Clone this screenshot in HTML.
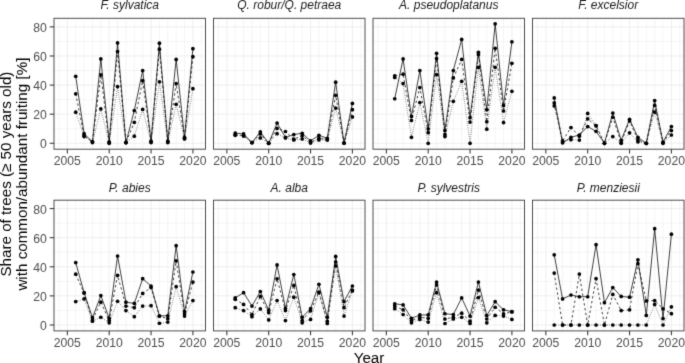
<!DOCTYPE html>
<html><head><meta charset="utf-8"><style>
html,body{margin:0;padding:0;background:#fff;}
svg{display:block;}
text{font-family:"Liberation Sans",sans-serif;}
.st{font-size:12.0px;font-style:italic;fill:#1a1a1a;text-anchor:middle;}
.tx{font-size:12.2px;fill:#4d4d4d;text-anchor:middle;}
.ty{font-size:12.2px;fill:#4d4d4d;text-anchor:end;}
.ti{font-size:15.2px;fill:#000;text-anchor:middle;}
</style></head><body>
<svg width="685" height="363" viewBox="0 0 685 363">
<defs><filter id="bl" x="0" y="0" width="685" height="363" filterUnits="userSpaceOnUse" color-interpolation-filters="sRGB"><feConvolveMatrix order="3" kernelMatrix="0.0144 0.0912 0.0144 0.0912 0.5776 0.0912 0.0144 0.0912 0.0144" edgeMode="duplicate" preserveAlpha="true"/></filter></defs>
<g filter="url(#bl)">
<rect width="685" height="363" fill="#fff"/>
<line x1="58.98" y1="18.3" x2="58.98" y2="149.2" stroke="#ededed" stroke-width="0.55"/>
<line x1="67.35" y1="18.3" x2="67.35" y2="149.2" stroke="#ededed" stroke-width="0.95"/>
<line x1="75.72" y1="18.3" x2="75.72" y2="149.2" stroke="#ededed" stroke-width="0.55"/>
<line x1="84.09" y1="18.3" x2="84.09" y2="149.2" stroke="#ededed" stroke-width="0.55"/>
<line x1="92.46" y1="18.3" x2="92.46" y2="149.2" stroke="#ededed" stroke-width="0.55"/>
<line x1="100.83" y1="18.3" x2="100.83" y2="149.2" stroke="#ededed" stroke-width="0.55"/>
<line x1="109.2" y1="18.3" x2="109.2" y2="149.2" stroke="#ededed" stroke-width="0.95"/>
<line x1="117.57" y1="18.3" x2="117.57" y2="149.2" stroke="#ededed" stroke-width="0.55"/>
<line x1="125.94" y1="18.3" x2="125.94" y2="149.2" stroke="#ededed" stroke-width="0.55"/>
<line x1="134.31" y1="18.3" x2="134.31" y2="149.2" stroke="#ededed" stroke-width="0.55"/>
<line x1="142.68" y1="18.3" x2="142.68" y2="149.2" stroke="#ededed" stroke-width="0.55"/>
<line x1="151.05" y1="18.3" x2="151.05" y2="149.2" stroke="#ededed" stroke-width="0.95"/>
<line x1="159.42" y1="18.3" x2="159.42" y2="149.2" stroke="#ededed" stroke-width="0.55"/>
<line x1="167.79" y1="18.3" x2="167.79" y2="149.2" stroke="#ededed" stroke-width="0.55"/>
<line x1="176.16" y1="18.3" x2="176.16" y2="149.2" stroke="#ededed" stroke-width="0.55"/>
<line x1="184.53" y1="18.3" x2="184.53" y2="149.2" stroke="#ededed" stroke-width="0.55"/>
<line x1="192.9" y1="18.3" x2="192.9" y2="149.2" stroke="#ededed" stroke-width="0.95"/>
<line x1="201.27" y1="18.3" x2="201.27" y2="149.2" stroke="#ededed" stroke-width="0.55"/>
<line x1="54" y1="143.28" x2="205.5" y2="143.28" stroke="#ededed" stroke-width="0.95"/>
<line x1="54" y1="128.73" x2="205.5" y2="128.73" stroke="#ededed" stroke-width="0.55"/>
<line x1="54" y1="114.18" x2="205.5" y2="114.18" stroke="#ededed" stroke-width="0.95"/>
<line x1="54" y1="99.63" x2="205.5" y2="99.63" stroke="#ededed" stroke-width="0.55"/>
<line x1="54" y1="85.08" x2="205.5" y2="85.08" stroke="#ededed" stroke-width="0.95"/>
<line x1="54" y1="70.53" x2="205.5" y2="70.53" stroke="#ededed" stroke-width="0.55"/>
<line x1="54" y1="55.98" x2="205.5" y2="55.98" stroke="#ededed" stroke-width="0.95"/>
<line x1="54" y1="41.43" x2="205.5" y2="41.43" stroke="#ededed" stroke-width="0.55"/>
<line x1="54" y1="26.88" x2="205.5" y2="26.88" stroke="#ededed" stroke-width="0.95"/>
<polyline points="75.72,112.14 84.09,136.59 92.46,142.55 100.83,108.94 109.2,143.28 117.57,86.53 125.94,142.55 134.31,136.15 142.68,109.38 151.05,142.55 159.42,81.73 167.79,142.55 176.16,104.28 184.53,138.91 192.9,88.72" fill="none" stroke="#000" stroke-width="0.75" stroke-dasharray="0.6 1.6"/>
<polyline points="75.72,93.81 84.09,135.57 92.46,141.82 100.83,74.89 109.2,142.55 117.57,51.61 125.94,142.55 134.31,122.33 142.68,80.71 151.05,141.82 159.42,49.14 167.79,141.82 176.16,83.62 184.53,138.19 192.9,56.71" fill="none" stroke="#000" stroke-width="0.75" stroke-dasharray="2.4 2.5"/>
<polyline points="75.72,76.35 84.09,133.68 92.46,141.82 100.83,58.89 109.2,141.82 117.57,42.88 125.94,142.55 134.31,110.54 142.68,70.53 151.05,141.1 159.42,43.17 167.79,141.1 176.16,59.47 184.53,137.46 192.9,48.7" fill="none" stroke="#000" stroke-width="0.75"/>
<circle cx="75.72" cy="112.14" r="1.85"/>
<circle cx="84.09" cy="136.59" r="1.85"/>
<circle cx="92.46" cy="142.55" r="1.85"/>
<circle cx="100.83" cy="108.94" r="1.85"/>
<circle cx="109.2" cy="143.28" r="1.85"/>
<circle cx="117.57" cy="86.53" r="1.85"/>
<circle cx="125.94" cy="142.55" r="1.85"/>
<circle cx="134.31" cy="136.15" r="1.85"/>
<circle cx="142.68" cy="109.38" r="1.85"/>
<circle cx="151.05" cy="142.55" r="1.85"/>
<circle cx="159.42" cy="81.73" r="1.85"/>
<circle cx="167.79" cy="142.55" r="1.85"/>
<circle cx="176.16" cy="104.28" r="1.85"/>
<circle cx="184.53" cy="138.91" r="1.85"/>
<circle cx="192.9" cy="88.72" r="1.85"/>
<circle cx="75.72" cy="93.81" r="1.85"/>
<circle cx="84.09" cy="135.57" r="1.85"/>
<circle cx="92.46" cy="141.82" r="1.85"/>
<circle cx="100.83" cy="74.89" r="1.85"/>
<circle cx="109.2" cy="142.55" r="1.85"/>
<circle cx="117.57" cy="51.61" r="1.85"/>
<circle cx="125.94" cy="142.55" r="1.85"/>
<circle cx="134.31" cy="122.33" r="1.85"/>
<circle cx="142.68" cy="80.71" r="1.85"/>
<circle cx="151.05" cy="141.82" r="1.85"/>
<circle cx="159.42" cy="49.14" r="1.85"/>
<circle cx="167.79" cy="141.82" r="1.85"/>
<circle cx="176.16" cy="83.62" r="1.85"/>
<circle cx="184.53" cy="138.19" r="1.85"/>
<circle cx="192.9" cy="56.71" r="1.85"/>
<circle cx="75.72" cy="76.35" r="1.85"/>
<circle cx="84.09" cy="133.68" r="1.85"/>
<circle cx="92.46" cy="141.82" r="1.85"/>
<circle cx="100.83" cy="58.89" r="1.85"/>
<circle cx="109.2" cy="141.82" r="1.85"/>
<circle cx="117.57" cy="42.88" r="1.85"/>
<circle cx="125.94" cy="142.55" r="1.85"/>
<circle cx="134.31" cy="110.54" r="1.85"/>
<circle cx="142.68" cy="70.53" r="1.85"/>
<circle cx="151.05" cy="141.1" r="1.85"/>
<circle cx="159.42" cy="43.17" r="1.85"/>
<circle cx="167.79" cy="141.1" r="1.85"/>
<circle cx="176.16" cy="59.47" r="1.85"/>
<circle cx="184.53" cy="137.46" r="1.85"/>
<circle cx="192.9" cy="48.7" r="1.85"/>
<rect x="54" y="18.3" width="151.5" height="130.9" fill="none" stroke="#444" stroke-width="0.95"/>
<text x="129.75" y="8.7" class="st">F. sylvatica</text>
<line x1="67.35" y1="149.2" x2="67.35" y2="153.5" stroke="#333" stroke-width="1.05"/>
<text x="67.35" y="165" class="tx">2005</text>
<line x1="109.2" y1="149.2" x2="109.2" y2="153.5" stroke="#333" stroke-width="1.05"/>
<text x="109.2" y="165" class="tx">2010</text>
<line x1="151.05" y1="149.2" x2="151.05" y2="153.5" stroke="#333" stroke-width="1.05"/>
<text x="151.05" y="165" class="tx">2015</text>
<line x1="192.9" y1="149.2" x2="192.9" y2="153.5" stroke="#333" stroke-width="1.05"/>
<text x="192.9" y="165" class="tx">2020</text>
<line x1="49.7" y1="143.28" x2="54" y2="143.28" stroke="#333" stroke-width="1.05"/>
<text x="46.7" y="148.28" class="ty">0</text>
<line x1="49.7" y1="114.18" x2="54" y2="114.18" stroke="#333" stroke-width="1.05"/>
<text x="46.7" y="119.18" class="ty">20</text>
<line x1="49.7" y1="85.08" x2="54" y2="85.08" stroke="#333" stroke-width="1.05"/>
<text x="46.7" y="90.08" class="ty">40</text>
<line x1="49.7" y1="55.98" x2="54" y2="55.98" stroke="#333" stroke-width="1.05"/>
<text x="46.7" y="60.98" class="ty">60</text>
<line x1="49.7" y1="26.88" x2="54" y2="26.88" stroke="#333" stroke-width="1.05"/>
<text x="46.7" y="31.88" class="ty">80</text>
<line x1="218.48" y1="18.3" x2="218.48" y2="149.2" stroke="#ededed" stroke-width="0.55"/>
<line x1="226.85" y1="18.3" x2="226.85" y2="149.2" stroke="#ededed" stroke-width="0.95"/>
<line x1="235.22" y1="18.3" x2="235.22" y2="149.2" stroke="#ededed" stroke-width="0.55"/>
<line x1="243.59" y1="18.3" x2="243.59" y2="149.2" stroke="#ededed" stroke-width="0.55"/>
<line x1="251.96" y1="18.3" x2="251.96" y2="149.2" stroke="#ededed" stroke-width="0.55"/>
<line x1="260.33" y1="18.3" x2="260.33" y2="149.2" stroke="#ededed" stroke-width="0.55"/>
<line x1="268.7" y1="18.3" x2="268.7" y2="149.2" stroke="#ededed" stroke-width="0.95"/>
<line x1="277.07" y1="18.3" x2="277.07" y2="149.2" stroke="#ededed" stroke-width="0.55"/>
<line x1="285.44" y1="18.3" x2="285.44" y2="149.2" stroke="#ededed" stroke-width="0.55"/>
<line x1="293.81" y1="18.3" x2="293.81" y2="149.2" stroke="#ededed" stroke-width="0.55"/>
<line x1="302.18" y1="18.3" x2="302.18" y2="149.2" stroke="#ededed" stroke-width="0.55"/>
<line x1="310.55" y1="18.3" x2="310.55" y2="149.2" stroke="#ededed" stroke-width="0.95"/>
<line x1="318.92" y1="18.3" x2="318.92" y2="149.2" stroke="#ededed" stroke-width="0.55"/>
<line x1="327.29" y1="18.3" x2="327.29" y2="149.2" stroke="#ededed" stroke-width="0.55"/>
<line x1="335.66" y1="18.3" x2="335.66" y2="149.2" stroke="#ededed" stroke-width="0.55"/>
<line x1="344.03" y1="18.3" x2="344.03" y2="149.2" stroke="#ededed" stroke-width="0.55"/>
<line x1="352.4" y1="18.3" x2="352.4" y2="149.2" stroke="#ededed" stroke-width="0.95"/>
<line x1="360.77" y1="18.3" x2="360.77" y2="149.2" stroke="#ededed" stroke-width="0.55"/>
<line x1="213.5" y1="143.28" x2="365" y2="143.28" stroke="#ededed" stroke-width="0.95"/>
<line x1="213.5" y1="128.73" x2="365" y2="128.73" stroke="#ededed" stroke-width="0.55"/>
<line x1="213.5" y1="114.18" x2="365" y2="114.18" stroke="#ededed" stroke-width="0.95"/>
<line x1="213.5" y1="99.63" x2="365" y2="99.63" stroke="#ededed" stroke-width="0.55"/>
<line x1="213.5" y1="85.08" x2="365" y2="85.08" stroke="#ededed" stroke-width="0.95"/>
<line x1="213.5" y1="70.53" x2="365" y2="70.53" stroke="#ededed" stroke-width="0.55"/>
<line x1="213.5" y1="55.98" x2="365" y2="55.98" stroke="#ededed" stroke-width="0.95"/>
<line x1="213.5" y1="41.43" x2="365" y2="41.43" stroke="#ededed" stroke-width="0.55"/>
<line x1="213.5" y1="26.88" x2="365" y2="26.88" stroke="#ededed" stroke-width="0.95"/>
<polyline points="235.22,135.28 243.59,136 251.96,142.55 260.33,137.89 268.7,143.28 277.07,133.68 285.44,137.89 293.81,139.93 302.18,138.91 310.55,142.99 318.92,139.93 327.29,139.93 335.66,108.07 344.03,142.99 352.4,116.94" fill="none" stroke="#000" stroke-width="0.75" stroke-dasharray="0.6 1.6"/>
<polyline points="235.22,134.55 243.59,135.71 251.96,142.55 260.33,133.97 268.7,143.28 277.07,128.44 285.44,131.49 293.81,139.2 302.18,135.71 310.55,142.55 318.92,138.19 327.29,139.64 335.66,95.26 344.03,142.99 352.4,109.67" fill="none" stroke="#000" stroke-width="0.75" stroke-dasharray="2.4 2.5"/>
<polyline points="235.22,133.09 243.59,133.97 251.96,142.55 260.33,131.93 268.7,143.28 277.07,123.05 285.44,137.46 293.81,134.55 302.18,133.24 310.55,140.95 318.92,135.28 327.29,138.33 335.66,82.17 344.03,142.99 352.4,103.41" fill="none" stroke="#000" stroke-width="0.75"/>
<circle cx="235.22" cy="135.28" r="1.85"/>
<circle cx="243.59" cy="136" r="1.85"/>
<circle cx="251.96" cy="142.55" r="1.85"/>
<circle cx="260.33" cy="137.89" r="1.85"/>
<circle cx="268.7" cy="143.28" r="1.85"/>
<circle cx="277.07" cy="133.68" r="1.85"/>
<circle cx="285.44" cy="137.89" r="1.85"/>
<circle cx="293.81" cy="139.93" r="1.85"/>
<circle cx="302.18" cy="138.91" r="1.85"/>
<circle cx="310.55" cy="142.99" r="1.85"/>
<circle cx="318.92" cy="139.93" r="1.85"/>
<circle cx="327.29" cy="139.93" r="1.85"/>
<circle cx="335.66" cy="108.07" r="1.85"/>
<circle cx="344.03" cy="142.99" r="1.85"/>
<circle cx="352.4" cy="116.94" r="1.85"/>
<circle cx="235.22" cy="134.55" r="1.85"/>
<circle cx="243.59" cy="135.71" r="1.85"/>
<circle cx="251.96" cy="142.55" r="1.85"/>
<circle cx="260.33" cy="133.97" r="1.85"/>
<circle cx="268.7" cy="143.28" r="1.85"/>
<circle cx="277.07" cy="128.44" r="1.85"/>
<circle cx="285.44" cy="131.49" r="1.85"/>
<circle cx="293.81" cy="139.2" r="1.85"/>
<circle cx="302.18" cy="135.71" r="1.85"/>
<circle cx="310.55" cy="142.55" r="1.85"/>
<circle cx="318.92" cy="138.19" r="1.85"/>
<circle cx="327.29" cy="139.64" r="1.85"/>
<circle cx="335.66" cy="95.26" r="1.85"/>
<circle cx="344.03" cy="142.99" r="1.85"/>
<circle cx="352.4" cy="109.67" r="1.85"/>
<circle cx="235.22" cy="133.09" r="1.85"/>
<circle cx="243.59" cy="133.97" r="1.85"/>
<circle cx="251.96" cy="142.55" r="1.85"/>
<circle cx="260.33" cy="131.93" r="1.85"/>
<circle cx="268.7" cy="143.28" r="1.85"/>
<circle cx="277.07" cy="123.05" r="1.85"/>
<circle cx="285.44" cy="137.46" r="1.85"/>
<circle cx="293.81" cy="134.55" r="1.85"/>
<circle cx="302.18" cy="133.24" r="1.85"/>
<circle cx="310.55" cy="140.95" r="1.85"/>
<circle cx="318.92" cy="135.28" r="1.85"/>
<circle cx="327.29" cy="138.33" r="1.85"/>
<circle cx="335.66" cy="82.17" r="1.85"/>
<circle cx="344.03" cy="142.99" r="1.85"/>
<circle cx="352.4" cy="103.41" r="1.85"/>
<rect x="213.5" y="18.3" width="151.5" height="130.9" fill="none" stroke="#444" stroke-width="0.95"/>
<text x="289.25" y="8.7" class="st">Q. robur/Q. petraea</text>
<line x1="226.85" y1="149.2" x2="226.85" y2="153.5" stroke="#333" stroke-width="1.05"/>
<text x="226.85" y="165" class="tx">2005</text>
<line x1="268.7" y1="149.2" x2="268.7" y2="153.5" stroke="#333" stroke-width="1.05"/>
<text x="268.7" y="165" class="tx">2010</text>
<line x1="310.55" y1="149.2" x2="310.55" y2="153.5" stroke="#333" stroke-width="1.05"/>
<text x="310.55" y="165" class="tx">2015</text>
<line x1="352.4" y1="149.2" x2="352.4" y2="153.5" stroke="#333" stroke-width="1.05"/>
<text x="352.4" y="165" class="tx">2020</text>
<line x1="377.98" y1="18.3" x2="377.98" y2="149.2" stroke="#ededed" stroke-width="0.55"/>
<line x1="386.35" y1="18.3" x2="386.35" y2="149.2" stroke="#ededed" stroke-width="0.95"/>
<line x1="394.72" y1="18.3" x2="394.72" y2="149.2" stroke="#ededed" stroke-width="0.55"/>
<line x1="403.09" y1="18.3" x2="403.09" y2="149.2" stroke="#ededed" stroke-width="0.55"/>
<line x1="411.46" y1="18.3" x2="411.46" y2="149.2" stroke="#ededed" stroke-width="0.55"/>
<line x1="419.83" y1="18.3" x2="419.83" y2="149.2" stroke="#ededed" stroke-width="0.55"/>
<line x1="428.2" y1="18.3" x2="428.2" y2="149.2" stroke="#ededed" stroke-width="0.95"/>
<line x1="436.57" y1="18.3" x2="436.57" y2="149.2" stroke="#ededed" stroke-width="0.55"/>
<line x1="444.94" y1="18.3" x2="444.94" y2="149.2" stroke="#ededed" stroke-width="0.55"/>
<line x1="453.31" y1="18.3" x2="453.31" y2="149.2" stroke="#ededed" stroke-width="0.55"/>
<line x1="461.68" y1="18.3" x2="461.68" y2="149.2" stroke="#ededed" stroke-width="0.55"/>
<line x1="470.05" y1="18.3" x2="470.05" y2="149.2" stroke="#ededed" stroke-width="0.95"/>
<line x1="478.42" y1="18.3" x2="478.42" y2="149.2" stroke="#ededed" stroke-width="0.55"/>
<line x1="486.79" y1="18.3" x2="486.79" y2="149.2" stroke="#ededed" stroke-width="0.55"/>
<line x1="495.16" y1="18.3" x2="495.16" y2="149.2" stroke="#ededed" stroke-width="0.55"/>
<line x1="503.53" y1="18.3" x2="503.53" y2="149.2" stroke="#ededed" stroke-width="0.55"/>
<line x1="511.9" y1="18.3" x2="511.9" y2="149.2" stroke="#ededed" stroke-width="0.95"/>
<line x1="520.27" y1="18.3" x2="520.27" y2="149.2" stroke="#ededed" stroke-width="0.55"/>
<line x1="373" y1="143.28" x2="524.5" y2="143.28" stroke="#ededed" stroke-width="0.95"/>
<line x1="373" y1="128.73" x2="524.5" y2="128.73" stroke="#ededed" stroke-width="0.55"/>
<line x1="373" y1="114.18" x2="524.5" y2="114.18" stroke="#ededed" stroke-width="0.95"/>
<line x1="373" y1="99.63" x2="524.5" y2="99.63" stroke="#ededed" stroke-width="0.55"/>
<line x1="373" y1="85.08" x2="524.5" y2="85.08" stroke="#ededed" stroke-width="0.95"/>
<line x1="373" y1="70.53" x2="524.5" y2="70.53" stroke="#ededed" stroke-width="0.55"/>
<line x1="373" y1="55.98" x2="524.5" y2="55.98" stroke="#ededed" stroke-width="0.95"/>
<line x1="373" y1="41.43" x2="524.5" y2="41.43" stroke="#ededed" stroke-width="0.55"/>
<line x1="373" y1="26.88" x2="524.5" y2="26.88" stroke="#ededed" stroke-width="0.95"/>
<polyline points="394.72,77.51 403.09,83.62 411.46,137.31 419.83,102.54 428.2,143.28 436.57,74.6 444.94,136.59 453.31,101.37 461.68,81.3 470.05,143.28 478.42,67.33 486.79,129.16 495.16,67.33 503.53,122.62 511.9,91.33" fill="none" stroke="#000" stroke-width="0.75" stroke-dasharray="0.6 1.6"/>
<polyline points="394.72,75.77 403.09,74.17 411.46,120.43 419.83,87.55 428.2,132.66 436.57,58.6 444.94,134.4 453.31,77.95 461.68,59.47 470.05,122.04 478.42,54.52 486.79,121.74 495.16,48.27 503.53,110.98 511.9,63.25" fill="none" stroke="#000" stroke-width="0.75" stroke-dasharray="2.4 2.5"/>
<polyline points="394.72,98.76 403.09,58.89 411.46,116.51 419.83,70.53 428.2,128.87 436.57,53.36 444.94,130.62 453.31,70.53 461.68,39.39 470.05,117.67 478.42,52.34 486.79,109.81 495.16,23.82 503.53,105.45 511.9,41.86" fill="none" stroke="#000" stroke-width="0.75"/>
<circle cx="394.72" cy="77.51" r="1.85"/>
<circle cx="403.09" cy="83.62" r="1.85"/>
<circle cx="411.46" cy="137.31" r="1.85"/>
<circle cx="419.83" cy="102.54" r="1.85"/>
<circle cx="428.2" cy="143.28" r="1.85"/>
<circle cx="436.57" cy="74.6" r="1.85"/>
<circle cx="444.94" cy="136.59" r="1.85"/>
<circle cx="453.31" cy="101.37" r="1.85"/>
<circle cx="461.68" cy="81.3" r="1.85"/>
<circle cx="470.05" cy="143.28" r="1.85"/>
<circle cx="478.42" cy="67.33" r="1.85"/>
<circle cx="486.79" cy="129.16" r="1.85"/>
<circle cx="495.16" cy="67.33" r="1.85"/>
<circle cx="503.53" cy="122.62" r="1.85"/>
<circle cx="511.9" cy="91.33" r="1.85"/>
<circle cx="394.72" cy="75.77" r="1.85"/>
<circle cx="403.09" cy="74.17" r="1.85"/>
<circle cx="411.46" cy="120.43" r="1.85"/>
<circle cx="419.83" cy="87.55" r="1.85"/>
<circle cx="428.2" cy="132.66" r="1.85"/>
<circle cx="436.57" cy="58.6" r="1.85"/>
<circle cx="444.94" cy="134.4" r="1.85"/>
<circle cx="453.31" cy="77.95" r="1.85"/>
<circle cx="461.68" cy="59.47" r="1.85"/>
<circle cx="470.05" cy="122.04" r="1.85"/>
<circle cx="478.42" cy="54.52" r="1.85"/>
<circle cx="486.79" cy="121.74" r="1.85"/>
<circle cx="495.16" cy="48.27" r="1.85"/>
<circle cx="503.53" cy="110.98" r="1.85"/>
<circle cx="511.9" cy="63.25" r="1.85"/>
<circle cx="394.72" cy="98.76" r="1.85"/>
<circle cx="403.09" cy="58.89" r="1.85"/>
<circle cx="411.46" cy="116.51" r="1.85"/>
<circle cx="419.83" cy="70.53" r="1.85"/>
<circle cx="428.2" cy="128.87" r="1.85"/>
<circle cx="436.57" cy="53.36" r="1.85"/>
<circle cx="444.94" cy="130.62" r="1.85"/>
<circle cx="453.31" cy="70.53" r="1.85"/>
<circle cx="461.68" cy="39.39" r="1.85"/>
<circle cx="470.05" cy="117.67" r="1.85"/>
<circle cx="478.42" cy="52.34" r="1.85"/>
<circle cx="486.79" cy="109.81" r="1.85"/>
<circle cx="495.16" cy="23.82" r="1.85"/>
<circle cx="503.53" cy="105.45" r="1.85"/>
<circle cx="511.9" cy="41.86" r="1.85"/>
<rect x="373" y="18.3" width="151.5" height="130.9" fill="none" stroke="#444" stroke-width="0.95"/>
<text x="448.75" y="8.7" class="st">A. pseudoplatanus</text>
<line x1="386.35" y1="149.2" x2="386.35" y2="153.5" stroke="#333" stroke-width="1.05"/>
<text x="386.35" y="165" class="tx">2005</text>
<line x1="428.2" y1="149.2" x2="428.2" y2="153.5" stroke="#333" stroke-width="1.05"/>
<text x="428.2" y="165" class="tx">2010</text>
<line x1="470.05" y1="149.2" x2="470.05" y2="153.5" stroke="#333" stroke-width="1.05"/>
<text x="470.05" y="165" class="tx">2015</text>
<line x1="511.9" y1="149.2" x2="511.9" y2="153.5" stroke="#333" stroke-width="1.05"/>
<text x="511.9" y="165" class="tx">2020</text>
<line x1="537.48" y1="18.3" x2="537.48" y2="149.2" stroke="#ededed" stroke-width="0.55"/>
<line x1="545.85" y1="18.3" x2="545.85" y2="149.2" stroke="#ededed" stroke-width="0.95"/>
<line x1="554.22" y1="18.3" x2="554.22" y2="149.2" stroke="#ededed" stroke-width="0.55"/>
<line x1="562.59" y1="18.3" x2="562.59" y2="149.2" stroke="#ededed" stroke-width="0.55"/>
<line x1="570.96" y1="18.3" x2="570.96" y2="149.2" stroke="#ededed" stroke-width="0.55"/>
<line x1="579.33" y1="18.3" x2="579.33" y2="149.2" stroke="#ededed" stroke-width="0.55"/>
<line x1="587.7" y1="18.3" x2="587.7" y2="149.2" stroke="#ededed" stroke-width="0.95"/>
<line x1="596.07" y1="18.3" x2="596.07" y2="149.2" stroke="#ededed" stroke-width="0.55"/>
<line x1="604.44" y1="18.3" x2="604.44" y2="149.2" stroke="#ededed" stroke-width="0.55"/>
<line x1="612.81" y1="18.3" x2="612.81" y2="149.2" stroke="#ededed" stroke-width="0.55"/>
<line x1="621.18" y1="18.3" x2="621.18" y2="149.2" stroke="#ededed" stroke-width="0.55"/>
<line x1="629.55" y1="18.3" x2="629.55" y2="149.2" stroke="#ededed" stroke-width="0.95"/>
<line x1="637.92" y1="18.3" x2="637.92" y2="149.2" stroke="#ededed" stroke-width="0.55"/>
<line x1="646.29" y1="18.3" x2="646.29" y2="149.2" stroke="#ededed" stroke-width="0.55"/>
<line x1="654.66" y1="18.3" x2="654.66" y2="149.2" stroke="#ededed" stroke-width="0.55"/>
<line x1="663.03" y1="18.3" x2="663.03" y2="149.2" stroke="#ededed" stroke-width="0.55"/>
<line x1="671.4" y1="18.3" x2="671.4" y2="149.2" stroke="#ededed" stroke-width="0.95"/>
<line x1="679.77" y1="18.3" x2="679.77" y2="149.2" stroke="#ededed" stroke-width="0.55"/>
<line x1="532.5" y1="143.28" x2="684" y2="143.28" stroke="#ededed" stroke-width="0.95"/>
<line x1="532.5" y1="128.73" x2="684" y2="128.73" stroke="#ededed" stroke-width="0.55"/>
<line x1="532.5" y1="114.18" x2="684" y2="114.18" stroke="#ededed" stroke-width="0.95"/>
<line x1="532.5" y1="99.63" x2="684" y2="99.63" stroke="#ededed" stroke-width="0.55"/>
<line x1="532.5" y1="85.08" x2="684" y2="85.08" stroke="#ededed" stroke-width="0.95"/>
<line x1="532.5" y1="70.53" x2="684" y2="70.53" stroke="#ededed" stroke-width="0.55"/>
<line x1="532.5" y1="55.98" x2="684" y2="55.98" stroke="#ededed" stroke-width="0.95"/>
<line x1="532.5" y1="41.43" x2="684" y2="41.43" stroke="#ededed" stroke-width="0.55"/>
<line x1="532.5" y1="26.88" x2="684" y2="26.88" stroke="#ededed" stroke-width="0.95"/>
<polyline points="554.22,105.88 562.59,142.11 570.96,139.64 579.33,140.08 587.7,113.45 596.07,125.53 604.44,143.28 612.81,136.59 621.18,143.28 629.55,132.8 637.92,141.82 646.29,143.28 654.66,112.14 663.03,143.28 671.4,134.98" fill="none" stroke="#000" stroke-width="0.75" stroke-dasharray="0.6 1.6"/>
<polyline points="554.22,102.97 562.59,140.8 570.96,127.56 579.33,136.15 587.7,118.83 596.07,125.82 604.44,143.28 612.81,117.23 621.18,142.55 629.55,121.02 637.92,139.93 646.29,143.28 654.66,105.45 663.03,142.55 671.4,130.62" fill="none" stroke="#000" stroke-width="0.75" stroke-dasharray="2.4 2.5"/>
<polyline points="554.22,97.88 562.59,142.84 570.96,137.31 579.33,134.98 587.7,126.55 596.07,131.35 604.44,143.28 612.81,113.01 621.18,140.37 629.55,119.27 637.92,137.31 646.29,143.28 654.66,100.5 663.03,142.11 671.4,126.55" fill="none" stroke="#000" stroke-width="0.75"/>
<circle cx="554.22" cy="105.88" r="1.85"/>
<circle cx="562.59" cy="142.11" r="1.85"/>
<circle cx="570.96" cy="139.64" r="1.85"/>
<circle cx="579.33" cy="140.08" r="1.85"/>
<circle cx="587.7" cy="113.45" r="1.85"/>
<circle cx="596.07" cy="125.53" r="1.85"/>
<circle cx="604.44" cy="143.28" r="1.85"/>
<circle cx="612.81" cy="136.59" r="1.85"/>
<circle cx="621.18" cy="143.28" r="1.85"/>
<circle cx="629.55" cy="132.8" r="1.85"/>
<circle cx="637.92" cy="141.82" r="1.85"/>
<circle cx="646.29" cy="143.28" r="1.85"/>
<circle cx="654.66" cy="112.14" r="1.85"/>
<circle cx="663.03" cy="143.28" r="1.85"/>
<circle cx="671.4" cy="134.98" r="1.85"/>
<circle cx="554.22" cy="102.97" r="1.85"/>
<circle cx="562.59" cy="140.8" r="1.85"/>
<circle cx="570.96" cy="127.56" r="1.85"/>
<circle cx="579.33" cy="136.15" r="1.85"/>
<circle cx="587.7" cy="118.83" r="1.85"/>
<circle cx="596.07" cy="125.82" r="1.85"/>
<circle cx="604.44" cy="143.28" r="1.85"/>
<circle cx="612.81" cy="117.23" r="1.85"/>
<circle cx="621.18" cy="142.55" r="1.85"/>
<circle cx="629.55" cy="121.02" r="1.85"/>
<circle cx="637.92" cy="139.93" r="1.85"/>
<circle cx="646.29" cy="143.28" r="1.85"/>
<circle cx="654.66" cy="105.45" r="1.85"/>
<circle cx="663.03" cy="142.55" r="1.85"/>
<circle cx="671.4" cy="130.62" r="1.85"/>
<circle cx="554.22" cy="97.88" r="1.85"/>
<circle cx="562.59" cy="142.84" r="1.85"/>
<circle cx="570.96" cy="137.31" r="1.85"/>
<circle cx="579.33" cy="134.98" r="1.85"/>
<circle cx="587.7" cy="126.55" r="1.85"/>
<circle cx="596.07" cy="131.35" r="1.85"/>
<circle cx="604.44" cy="143.28" r="1.85"/>
<circle cx="612.81" cy="113.01" r="1.85"/>
<circle cx="621.18" cy="140.37" r="1.85"/>
<circle cx="629.55" cy="119.27" r="1.85"/>
<circle cx="637.92" cy="137.31" r="1.85"/>
<circle cx="646.29" cy="143.28" r="1.85"/>
<circle cx="654.66" cy="100.5" r="1.85"/>
<circle cx="663.03" cy="142.11" r="1.85"/>
<circle cx="671.4" cy="126.55" r="1.85"/>
<rect x="532.5" y="18.3" width="151.5" height="130.9" fill="none" stroke="#444" stroke-width="0.95"/>
<text x="608.25" y="8.7" class="st">F. excelsior</text>
<line x1="545.85" y1="149.2" x2="545.85" y2="153.5" stroke="#333" stroke-width="1.05"/>
<text x="545.85" y="165" class="tx">2005</text>
<line x1="587.7" y1="149.2" x2="587.7" y2="153.5" stroke="#333" stroke-width="1.05"/>
<text x="587.7" y="165" class="tx">2010</text>
<line x1="629.55" y1="149.2" x2="629.55" y2="153.5" stroke="#333" stroke-width="1.05"/>
<text x="629.55" y="165" class="tx">2015</text>
<line x1="671.4" y1="149.2" x2="671.4" y2="153.5" stroke="#333" stroke-width="1.05"/>
<text x="671.4" y="165" class="tx">2020</text>
<line x1="58.98" y1="200.2" x2="58.98" y2="330.9" stroke="#ededed" stroke-width="0.55"/>
<line x1="67.35" y1="200.2" x2="67.35" y2="330.9" stroke="#ededed" stroke-width="0.95"/>
<line x1="75.72" y1="200.2" x2="75.72" y2="330.9" stroke="#ededed" stroke-width="0.55"/>
<line x1="84.09" y1="200.2" x2="84.09" y2="330.9" stroke="#ededed" stroke-width="0.55"/>
<line x1="92.46" y1="200.2" x2="92.46" y2="330.9" stroke="#ededed" stroke-width="0.55"/>
<line x1="100.83" y1="200.2" x2="100.83" y2="330.9" stroke="#ededed" stroke-width="0.55"/>
<line x1="109.2" y1="200.2" x2="109.2" y2="330.9" stroke="#ededed" stroke-width="0.95"/>
<line x1="117.57" y1="200.2" x2="117.57" y2="330.9" stroke="#ededed" stroke-width="0.55"/>
<line x1="125.94" y1="200.2" x2="125.94" y2="330.9" stroke="#ededed" stroke-width="0.55"/>
<line x1="134.31" y1="200.2" x2="134.31" y2="330.9" stroke="#ededed" stroke-width="0.55"/>
<line x1="142.68" y1="200.2" x2="142.68" y2="330.9" stroke="#ededed" stroke-width="0.55"/>
<line x1="151.05" y1="200.2" x2="151.05" y2="330.9" stroke="#ededed" stroke-width="0.95"/>
<line x1="159.42" y1="200.2" x2="159.42" y2="330.9" stroke="#ededed" stroke-width="0.55"/>
<line x1="167.79" y1="200.2" x2="167.79" y2="330.9" stroke="#ededed" stroke-width="0.55"/>
<line x1="176.16" y1="200.2" x2="176.16" y2="330.9" stroke="#ededed" stroke-width="0.55"/>
<line x1="184.53" y1="200.2" x2="184.53" y2="330.9" stroke="#ededed" stroke-width="0.55"/>
<line x1="192.9" y1="200.2" x2="192.9" y2="330.9" stroke="#ededed" stroke-width="0.95"/>
<line x1="201.27" y1="200.2" x2="201.27" y2="330.9" stroke="#ededed" stroke-width="0.55"/>
<line x1="54" y1="324.98" x2="205.5" y2="324.98" stroke="#ededed" stroke-width="0.95"/>
<line x1="54" y1="310.43" x2="205.5" y2="310.43" stroke="#ededed" stroke-width="0.55"/>
<line x1="54" y1="295.88" x2="205.5" y2="295.88" stroke="#ededed" stroke-width="0.95"/>
<line x1="54" y1="281.33" x2="205.5" y2="281.33" stroke="#ededed" stroke-width="0.55"/>
<line x1="54" y1="266.78" x2="205.5" y2="266.78" stroke="#ededed" stroke-width="0.95"/>
<line x1="54" y1="252.23" x2="205.5" y2="252.23" stroke="#ededed" stroke-width="0.55"/>
<line x1="54" y1="237.68" x2="205.5" y2="237.68" stroke="#ededed" stroke-width="0.95"/>
<line x1="54" y1="223.13" x2="205.5" y2="223.13" stroke="#ededed" stroke-width="0.55"/>
<line x1="54" y1="208.58" x2="205.5" y2="208.58" stroke="#ededed" stroke-width="0.95"/>
<polyline points="75.72,301.55 84.09,298.93 92.46,321.2 100.83,317.27 109.2,322.8 117.57,301.26 125.94,310.57 134.31,316.68 142.68,306.06 151.05,305.63 159.42,323.23 167.79,322.07 176.16,286.71 184.53,316.1 192.9,300.53" fill="none" stroke="#000" stroke-width="0.75" stroke-dasharray="0.6 1.6"/>
<polyline points="75.72,274.2 84.09,293.11 92.46,319.89 100.83,302.13 109.2,320.61 117.57,275.36 125.94,306.06 134.31,307.66 142.68,293.4 151.05,287.58 159.42,316.25 167.79,318.72 176.16,260.81 184.53,313.77 192.9,282.06" fill="none" stroke="#000" stroke-width="0.75" stroke-dasharray="2.4 2.5"/>
<polyline points="75.72,262.56 84.09,292.68 92.46,317.7 100.83,295.59 109.2,318.29 117.57,256.01 125.94,302.13 134.31,303.44 142.68,278.71 151.05,285.98 159.42,315.81 167.79,315.81 176.16,245.68 184.53,311.59 192.9,272.02" fill="none" stroke="#000" stroke-width="0.75"/>
<circle cx="75.72" cy="301.55" r="1.85"/>
<circle cx="84.09" cy="298.93" r="1.85"/>
<circle cx="92.46" cy="321.2" r="1.85"/>
<circle cx="100.83" cy="317.27" r="1.85"/>
<circle cx="109.2" cy="322.8" r="1.85"/>
<circle cx="117.57" cy="301.26" r="1.85"/>
<circle cx="125.94" cy="310.57" r="1.85"/>
<circle cx="134.31" cy="316.68" r="1.85"/>
<circle cx="142.68" cy="306.06" r="1.85"/>
<circle cx="151.05" cy="305.63" r="1.85"/>
<circle cx="159.42" cy="323.23" r="1.85"/>
<circle cx="167.79" cy="322.07" r="1.85"/>
<circle cx="176.16" cy="286.71" r="1.85"/>
<circle cx="184.53" cy="316.1" r="1.85"/>
<circle cx="192.9" cy="300.53" r="1.85"/>
<circle cx="75.72" cy="274.2" r="1.85"/>
<circle cx="84.09" cy="293.11" r="1.85"/>
<circle cx="92.46" cy="319.89" r="1.85"/>
<circle cx="100.83" cy="302.13" r="1.85"/>
<circle cx="109.2" cy="320.61" r="1.85"/>
<circle cx="117.57" cy="275.36" r="1.85"/>
<circle cx="125.94" cy="306.06" r="1.85"/>
<circle cx="134.31" cy="307.66" r="1.85"/>
<circle cx="142.68" cy="293.4" r="1.85"/>
<circle cx="151.05" cy="287.58" r="1.85"/>
<circle cx="159.42" cy="316.25" r="1.85"/>
<circle cx="167.79" cy="318.72" r="1.85"/>
<circle cx="176.16" cy="260.81" r="1.85"/>
<circle cx="184.53" cy="313.77" r="1.85"/>
<circle cx="192.9" cy="282.06" r="1.85"/>
<circle cx="75.72" cy="262.56" r="1.85"/>
<circle cx="84.09" cy="292.68" r="1.85"/>
<circle cx="92.46" cy="317.7" r="1.85"/>
<circle cx="100.83" cy="295.59" r="1.85"/>
<circle cx="109.2" cy="318.29" r="1.85"/>
<circle cx="117.57" cy="256.01" r="1.85"/>
<circle cx="125.94" cy="302.13" r="1.85"/>
<circle cx="134.31" cy="303.44" r="1.85"/>
<circle cx="142.68" cy="278.71" r="1.85"/>
<circle cx="151.05" cy="285.98" r="1.85"/>
<circle cx="159.42" cy="315.81" r="1.85"/>
<circle cx="167.79" cy="315.81" r="1.85"/>
<circle cx="176.16" cy="245.68" r="1.85"/>
<circle cx="184.53" cy="311.59" r="1.85"/>
<circle cx="192.9" cy="272.02" r="1.85"/>
<rect x="54" y="200.2" width="151.5" height="130.7" fill="none" stroke="#444" stroke-width="0.95"/>
<text x="129.75" y="191.6" class="st">P. abies</text>
<line x1="67.35" y1="330.9" x2="67.35" y2="335.2" stroke="#333" stroke-width="1.05"/>
<text x="67.35" y="347" class="tx">2005</text>
<line x1="109.2" y1="330.9" x2="109.2" y2="335.2" stroke="#333" stroke-width="1.05"/>
<text x="109.2" y="347" class="tx">2010</text>
<line x1="151.05" y1="330.9" x2="151.05" y2="335.2" stroke="#333" stroke-width="1.05"/>
<text x="151.05" y="347" class="tx">2015</text>
<line x1="192.9" y1="330.9" x2="192.9" y2="335.2" stroke="#333" stroke-width="1.05"/>
<text x="192.9" y="347" class="tx">2020</text>
<line x1="49.7" y1="324.98" x2="54" y2="324.98" stroke="#333" stroke-width="1.05"/>
<text x="46.7" y="329.98" class="ty">0</text>
<line x1="49.7" y1="295.88" x2="54" y2="295.88" stroke="#333" stroke-width="1.05"/>
<text x="46.7" y="300.88" class="ty">20</text>
<line x1="49.7" y1="266.78" x2="54" y2="266.78" stroke="#333" stroke-width="1.05"/>
<text x="46.7" y="271.78" class="ty">40</text>
<line x1="49.7" y1="237.68" x2="54" y2="237.68" stroke="#333" stroke-width="1.05"/>
<text x="46.7" y="242.68" class="ty">60</text>
<line x1="49.7" y1="208.58" x2="54" y2="208.58" stroke="#333" stroke-width="1.05"/>
<text x="46.7" y="213.58" class="ty">80</text>
<line x1="218.48" y1="200.2" x2="218.48" y2="330.9" stroke="#ededed" stroke-width="0.55"/>
<line x1="226.85" y1="200.2" x2="226.85" y2="330.9" stroke="#ededed" stroke-width="0.95"/>
<line x1="235.22" y1="200.2" x2="235.22" y2="330.9" stroke="#ededed" stroke-width="0.55"/>
<line x1="243.59" y1="200.2" x2="243.59" y2="330.9" stroke="#ededed" stroke-width="0.55"/>
<line x1="251.96" y1="200.2" x2="251.96" y2="330.9" stroke="#ededed" stroke-width="0.55"/>
<line x1="260.33" y1="200.2" x2="260.33" y2="330.9" stroke="#ededed" stroke-width="0.55"/>
<line x1="268.7" y1="200.2" x2="268.7" y2="330.9" stroke="#ededed" stroke-width="0.95"/>
<line x1="277.07" y1="200.2" x2="277.07" y2="330.9" stroke="#ededed" stroke-width="0.55"/>
<line x1="285.44" y1="200.2" x2="285.44" y2="330.9" stroke="#ededed" stroke-width="0.55"/>
<line x1="293.81" y1="200.2" x2="293.81" y2="330.9" stroke="#ededed" stroke-width="0.55"/>
<line x1="302.18" y1="200.2" x2="302.18" y2="330.9" stroke="#ededed" stroke-width="0.55"/>
<line x1="310.55" y1="200.2" x2="310.55" y2="330.9" stroke="#ededed" stroke-width="0.95"/>
<line x1="318.92" y1="200.2" x2="318.92" y2="330.9" stroke="#ededed" stroke-width="0.55"/>
<line x1="327.29" y1="200.2" x2="327.29" y2="330.9" stroke="#ededed" stroke-width="0.55"/>
<line x1="335.66" y1="200.2" x2="335.66" y2="330.9" stroke="#ededed" stroke-width="0.55"/>
<line x1="344.03" y1="200.2" x2="344.03" y2="330.9" stroke="#ededed" stroke-width="0.55"/>
<line x1="352.4" y1="200.2" x2="352.4" y2="330.9" stroke="#ededed" stroke-width="0.95"/>
<line x1="360.77" y1="200.2" x2="360.77" y2="330.9" stroke="#ededed" stroke-width="0.55"/>
<line x1="213.5" y1="324.98" x2="365" y2="324.98" stroke="#ededed" stroke-width="0.95"/>
<line x1="213.5" y1="310.43" x2="365" y2="310.43" stroke="#ededed" stroke-width="0.55"/>
<line x1="213.5" y1="295.88" x2="365" y2="295.88" stroke="#ededed" stroke-width="0.95"/>
<line x1="213.5" y1="281.33" x2="365" y2="281.33" stroke="#ededed" stroke-width="0.55"/>
<line x1="213.5" y1="266.78" x2="365" y2="266.78" stroke="#ededed" stroke-width="0.95"/>
<line x1="213.5" y1="252.23" x2="365" y2="252.23" stroke="#ededed" stroke-width="0.55"/>
<line x1="213.5" y1="237.68" x2="365" y2="237.68" stroke="#ededed" stroke-width="0.95"/>
<line x1="213.5" y1="223.13" x2="365" y2="223.13" stroke="#ededed" stroke-width="0.55"/>
<line x1="213.5" y1="208.58" x2="365" y2="208.58" stroke="#ededed" stroke-width="0.95"/>
<polyline points="235.22,307.66 243.59,310.57 251.96,316.68 260.33,308.97 268.7,319.89 277.07,300.53 285.44,320.61 293.81,297.19 302.18,322.8 310.55,319.45 318.92,292.53 327.29,323.52 335.66,265.76 344.03,316.1 352.4,290.93" fill="none" stroke="#000" stroke-width="0.75" stroke-dasharray="0.6 1.6"/>
<polyline points="235.22,299.37 243.59,304.46 251.96,314.5 260.33,296.46 268.7,312.76 277.07,278.85 285.44,310.57 293.81,285.4 302.18,320.61 310.55,310.86 318.92,292.1 327.29,321.2 335.66,261.98 344.03,307.66 352.4,290.06" fill="none" stroke="#000" stroke-width="0.75" stroke-dasharray="2.4 2.5"/>
<polyline points="235.22,297.77 243.59,292.68 251.96,306.06 260.33,291.51 268.7,310.14 277.07,264.89 285.44,308.39 293.81,274.49 302.18,317.27 310.55,308.68 318.92,284.24 327.29,317.27 335.66,256.45 344.03,301.7 352.4,285.98" fill="none" stroke="#000" stroke-width="0.75"/>
<circle cx="235.22" cy="307.66" r="1.85"/>
<circle cx="243.59" cy="310.57" r="1.85"/>
<circle cx="251.96" cy="316.68" r="1.85"/>
<circle cx="260.33" cy="308.97" r="1.85"/>
<circle cx="268.7" cy="319.89" r="1.85"/>
<circle cx="277.07" cy="300.53" r="1.85"/>
<circle cx="285.44" cy="320.61" r="1.85"/>
<circle cx="293.81" cy="297.19" r="1.85"/>
<circle cx="302.18" cy="322.8" r="1.85"/>
<circle cx="310.55" cy="319.45" r="1.85"/>
<circle cx="318.92" cy="292.53" r="1.85"/>
<circle cx="327.29" cy="323.52" r="1.85"/>
<circle cx="335.66" cy="265.76" r="1.85"/>
<circle cx="344.03" cy="316.1" r="1.85"/>
<circle cx="352.4" cy="290.93" r="1.85"/>
<circle cx="235.22" cy="299.37" r="1.85"/>
<circle cx="243.59" cy="304.46" r="1.85"/>
<circle cx="251.96" cy="314.5" r="1.85"/>
<circle cx="260.33" cy="296.46" r="1.85"/>
<circle cx="268.7" cy="312.76" r="1.85"/>
<circle cx="277.07" cy="278.85" r="1.85"/>
<circle cx="285.44" cy="310.57" r="1.85"/>
<circle cx="293.81" cy="285.4" r="1.85"/>
<circle cx="302.18" cy="320.61" r="1.85"/>
<circle cx="310.55" cy="310.86" r="1.85"/>
<circle cx="318.92" cy="292.1" r="1.85"/>
<circle cx="327.29" cy="321.2" r="1.85"/>
<circle cx="335.66" cy="261.98" r="1.85"/>
<circle cx="344.03" cy="307.66" r="1.85"/>
<circle cx="352.4" cy="290.06" r="1.85"/>
<circle cx="235.22" cy="297.77" r="1.85"/>
<circle cx="243.59" cy="292.68" r="1.85"/>
<circle cx="251.96" cy="306.06" r="1.85"/>
<circle cx="260.33" cy="291.51" r="1.85"/>
<circle cx="268.7" cy="310.14" r="1.85"/>
<circle cx="277.07" cy="264.89" r="1.85"/>
<circle cx="285.44" cy="308.39" r="1.85"/>
<circle cx="293.81" cy="274.49" r="1.85"/>
<circle cx="302.18" cy="317.27" r="1.85"/>
<circle cx="310.55" cy="308.68" r="1.85"/>
<circle cx="318.92" cy="284.24" r="1.85"/>
<circle cx="327.29" cy="317.27" r="1.85"/>
<circle cx="335.66" cy="256.45" r="1.85"/>
<circle cx="344.03" cy="301.7" r="1.85"/>
<circle cx="352.4" cy="285.98" r="1.85"/>
<rect x="213.5" y="200.2" width="151.5" height="130.7" fill="none" stroke="#444" stroke-width="0.95"/>
<text x="289.25" y="191.6" class="st">A. alba</text>
<line x1="226.85" y1="330.9" x2="226.85" y2="335.2" stroke="#333" stroke-width="1.05"/>
<text x="226.85" y="347" class="tx">2005</text>
<line x1="268.7" y1="330.9" x2="268.7" y2="335.2" stroke="#333" stroke-width="1.05"/>
<text x="268.7" y="347" class="tx">2010</text>
<line x1="310.55" y1="330.9" x2="310.55" y2="335.2" stroke="#333" stroke-width="1.05"/>
<text x="310.55" y="347" class="tx">2015</text>
<line x1="352.4" y1="330.9" x2="352.4" y2="335.2" stroke="#333" stroke-width="1.05"/>
<text x="352.4" y="347" class="tx">2020</text>
<line x1="377.98" y1="200.2" x2="377.98" y2="330.9" stroke="#ededed" stroke-width="0.55"/>
<line x1="386.35" y1="200.2" x2="386.35" y2="330.9" stroke="#ededed" stroke-width="0.95"/>
<line x1="394.72" y1="200.2" x2="394.72" y2="330.9" stroke="#ededed" stroke-width="0.55"/>
<line x1="403.09" y1="200.2" x2="403.09" y2="330.9" stroke="#ededed" stroke-width="0.55"/>
<line x1="411.46" y1="200.2" x2="411.46" y2="330.9" stroke="#ededed" stroke-width="0.55"/>
<line x1="419.83" y1="200.2" x2="419.83" y2="330.9" stroke="#ededed" stroke-width="0.55"/>
<line x1="428.2" y1="200.2" x2="428.2" y2="330.9" stroke="#ededed" stroke-width="0.95"/>
<line x1="436.57" y1="200.2" x2="436.57" y2="330.9" stroke="#ededed" stroke-width="0.55"/>
<line x1="444.94" y1="200.2" x2="444.94" y2="330.9" stroke="#ededed" stroke-width="0.55"/>
<line x1="453.31" y1="200.2" x2="453.31" y2="330.9" stroke="#ededed" stroke-width="0.55"/>
<line x1="461.68" y1="200.2" x2="461.68" y2="330.9" stroke="#ededed" stroke-width="0.55"/>
<line x1="470.05" y1="200.2" x2="470.05" y2="330.9" stroke="#ededed" stroke-width="0.95"/>
<line x1="478.42" y1="200.2" x2="478.42" y2="330.9" stroke="#ededed" stroke-width="0.55"/>
<line x1="486.79" y1="200.2" x2="486.79" y2="330.9" stroke="#ededed" stroke-width="0.55"/>
<line x1="495.16" y1="200.2" x2="495.16" y2="330.9" stroke="#ededed" stroke-width="0.55"/>
<line x1="503.53" y1="200.2" x2="503.53" y2="330.9" stroke="#ededed" stroke-width="0.55"/>
<line x1="511.9" y1="200.2" x2="511.9" y2="330.9" stroke="#ededed" stroke-width="0.95"/>
<line x1="520.27" y1="200.2" x2="520.27" y2="330.9" stroke="#ededed" stroke-width="0.55"/>
<line x1="373" y1="324.98" x2="524.5" y2="324.98" stroke="#ededed" stroke-width="0.95"/>
<line x1="373" y1="310.43" x2="524.5" y2="310.43" stroke="#ededed" stroke-width="0.55"/>
<line x1="373" y1="295.88" x2="524.5" y2="295.88" stroke="#ededed" stroke-width="0.95"/>
<line x1="373" y1="281.33" x2="524.5" y2="281.33" stroke="#ededed" stroke-width="0.55"/>
<line x1="373" y1="266.78" x2="524.5" y2="266.78" stroke="#ededed" stroke-width="0.95"/>
<line x1="373" y1="252.23" x2="524.5" y2="252.23" stroke="#ededed" stroke-width="0.55"/>
<line x1="373" y1="237.68" x2="524.5" y2="237.68" stroke="#ededed" stroke-width="0.95"/>
<line x1="373" y1="223.13" x2="524.5" y2="223.13" stroke="#ededed" stroke-width="0.55"/>
<line x1="373" y1="208.58" x2="524.5" y2="208.58" stroke="#ededed" stroke-width="0.95"/>
<polyline points="394.72,308.68 403.09,314.5 411.46,322.8 419.83,319.45 428.2,322.07 436.57,292.68 444.94,323.52 453.31,319.01 461.68,317.27 470.05,323.52 478.42,297.62 486.79,322.8 495.16,315.38 503.53,316.1 511.9,319.45" fill="none" stroke="#000" stroke-width="0.75" stroke-dasharray="0.6 1.6"/>
<polyline points="394.72,306.06 403.09,309.85 411.46,320.61 419.83,317.27 428.2,318.29 436.57,284.97 444.94,319.01 453.31,317.27 461.68,313.19 470.05,321.2 478.42,290.06 486.79,319.01 495.16,307.23 503.53,313.77 511.9,311.88" fill="none" stroke="#000" stroke-width="0.75" stroke-dasharray="2.4 2.5"/>
<polyline points="394.72,303.74 403.09,304.9 411.46,318.29 419.83,314.94 428.2,314.94 436.57,282.06 444.94,313.77 453.31,314.5 461.68,297.92 470.05,316.1 478.42,282.06 486.79,315.52 495.16,301.7 503.53,309.85 511.9,311.59" fill="none" stroke="#000" stroke-width="0.75"/>
<circle cx="394.72" cy="308.68" r="1.85"/>
<circle cx="403.09" cy="314.5" r="1.85"/>
<circle cx="411.46" cy="322.8" r="1.85"/>
<circle cx="419.83" cy="319.45" r="1.85"/>
<circle cx="428.2" cy="322.07" r="1.85"/>
<circle cx="436.57" cy="292.68" r="1.85"/>
<circle cx="444.94" cy="323.52" r="1.85"/>
<circle cx="453.31" cy="319.01" r="1.85"/>
<circle cx="461.68" cy="317.27" r="1.85"/>
<circle cx="470.05" cy="323.52" r="1.85"/>
<circle cx="478.42" cy="297.62" r="1.85"/>
<circle cx="486.79" cy="322.8" r="1.85"/>
<circle cx="495.16" cy="315.38" r="1.85"/>
<circle cx="503.53" cy="316.1" r="1.85"/>
<circle cx="511.9" cy="319.45" r="1.85"/>
<circle cx="394.72" cy="306.06" r="1.85"/>
<circle cx="403.09" cy="309.85" r="1.85"/>
<circle cx="411.46" cy="320.61" r="1.85"/>
<circle cx="419.83" cy="317.27" r="1.85"/>
<circle cx="428.2" cy="318.29" r="1.85"/>
<circle cx="436.57" cy="284.97" r="1.85"/>
<circle cx="444.94" cy="319.01" r="1.85"/>
<circle cx="453.31" cy="317.27" r="1.85"/>
<circle cx="461.68" cy="313.19" r="1.85"/>
<circle cx="470.05" cy="321.2" r="1.85"/>
<circle cx="478.42" cy="290.06" r="1.85"/>
<circle cx="486.79" cy="319.01" r="1.85"/>
<circle cx="495.16" cy="307.23" r="1.85"/>
<circle cx="503.53" cy="313.77" r="1.85"/>
<circle cx="511.9" cy="311.88" r="1.85"/>
<circle cx="394.72" cy="303.74" r="1.85"/>
<circle cx="403.09" cy="304.9" r="1.85"/>
<circle cx="411.46" cy="318.29" r="1.85"/>
<circle cx="419.83" cy="314.94" r="1.85"/>
<circle cx="428.2" cy="314.94" r="1.85"/>
<circle cx="436.57" cy="282.06" r="1.85"/>
<circle cx="444.94" cy="313.77" r="1.85"/>
<circle cx="453.31" cy="314.5" r="1.85"/>
<circle cx="461.68" cy="297.92" r="1.85"/>
<circle cx="470.05" cy="316.1" r="1.85"/>
<circle cx="478.42" cy="282.06" r="1.85"/>
<circle cx="486.79" cy="315.52" r="1.85"/>
<circle cx="495.16" cy="301.7" r="1.85"/>
<circle cx="503.53" cy="309.85" r="1.85"/>
<circle cx="511.9" cy="311.59" r="1.85"/>
<rect x="373" y="200.2" width="151.5" height="130.7" fill="none" stroke="#444" stroke-width="0.95"/>
<text x="448.75" y="191.6" class="st">P. sylvestris</text>
<line x1="386.35" y1="330.9" x2="386.35" y2="335.2" stroke="#333" stroke-width="1.05"/>
<text x="386.35" y="347" class="tx">2005</text>
<line x1="428.2" y1="330.9" x2="428.2" y2="335.2" stroke="#333" stroke-width="1.05"/>
<text x="428.2" y="347" class="tx">2010</text>
<line x1="470.05" y1="330.9" x2="470.05" y2="335.2" stroke="#333" stroke-width="1.05"/>
<text x="470.05" y="347" class="tx">2015</text>
<line x1="511.9" y1="330.9" x2="511.9" y2="335.2" stroke="#333" stroke-width="1.05"/>
<text x="511.9" y="347" class="tx">2020</text>
<line x1="537.48" y1="200.2" x2="537.48" y2="330.9" stroke="#ededed" stroke-width="0.55"/>
<line x1="545.85" y1="200.2" x2="545.85" y2="330.9" stroke="#ededed" stroke-width="0.95"/>
<line x1="554.22" y1="200.2" x2="554.22" y2="330.9" stroke="#ededed" stroke-width="0.55"/>
<line x1="562.59" y1="200.2" x2="562.59" y2="330.9" stroke="#ededed" stroke-width="0.55"/>
<line x1="570.96" y1="200.2" x2="570.96" y2="330.9" stroke="#ededed" stroke-width="0.55"/>
<line x1="579.33" y1="200.2" x2="579.33" y2="330.9" stroke="#ededed" stroke-width="0.55"/>
<line x1="587.7" y1="200.2" x2="587.7" y2="330.9" stroke="#ededed" stroke-width="0.95"/>
<line x1="596.07" y1="200.2" x2="596.07" y2="330.9" stroke="#ededed" stroke-width="0.55"/>
<line x1="604.44" y1="200.2" x2="604.44" y2="330.9" stroke="#ededed" stroke-width="0.55"/>
<line x1="612.81" y1="200.2" x2="612.81" y2="330.9" stroke="#ededed" stroke-width="0.55"/>
<line x1="621.18" y1="200.2" x2="621.18" y2="330.9" stroke="#ededed" stroke-width="0.55"/>
<line x1="629.55" y1="200.2" x2="629.55" y2="330.9" stroke="#ededed" stroke-width="0.95"/>
<line x1="637.92" y1="200.2" x2="637.92" y2="330.9" stroke="#ededed" stroke-width="0.55"/>
<line x1="646.29" y1="200.2" x2="646.29" y2="330.9" stroke="#ededed" stroke-width="0.55"/>
<line x1="654.66" y1="200.2" x2="654.66" y2="330.9" stroke="#ededed" stroke-width="0.55"/>
<line x1="663.03" y1="200.2" x2="663.03" y2="330.9" stroke="#ededed" stroke-width="0.55"/>
<line x1="671.4" y1="200.2" x2="671.4" y2="330.9" stroke="#ededed" stroke-width="0.95"/>
<line x1="679.77" y1="200.2" x2="679.77" y2="330.9" stroke="#ededed" stroke-width="0.55"/>
<line x1="532.5" y1="324.98" x2="684" y2="324.98" stroke="#ededed" stroke-width="0.95"/>
<line x1="532.5" y1="310.43" x2="684" y2="310.43" stroke="#ededed" stroke-width="0.55"/>
<line x1="532.5" y1="295.88" x2="684" y2="295.88" stroke="#ededed" stroke-width="0.95"/>
<line x1="532.5" y1="281.33" x2="684" y2="281.33" stroke="#ededed" stroke-width="0.55"/>
<line x1="532.5" y1="266.78" x2="684" y2="266.78" stroke="#ededed" stroke-width="0.95"/>
<line x1="532.5" y1="252.23" x2="684" y2="252.23" stroke="#ededed" stroke-width="0.55"/>
<line x1="532.5" y1="237.68" x2="684" y2="237.68" stroke="#ededed" stroke-width="0.95"/>
<line x1="532.5" y1="223.13" x2="684" y2="223.13" stroke="#ededed" stroke-width="0.55"/>
<line x1="532.5" y1="208.58" x2="684" y2="208.58" stroke="#ededed" stroke-width="0.95"/>
<polyline points="554.22,324.98 562.59,324.98 570.96,324.98 579.33,324.98 587.7,324.98 596.07,324.98 604.44,324.98 612.81,324.98 621.18,324.98 629.55,324.98 637.92,324.98 646.29,324.98 654.66,304.46 663.03,324.98 671.4,306.79" fill="none" stroke="#000" stroke-width="0.75" stroke-dasharray="0.6 1.6"/>
<polyline points="554.22,273.03 562.59,324.98 570.96,324.98 579.33,274.05 587.7,324.98 596.07,278.71 604.44,324.98 612.81,294.42 621.18,310.57 629.55,309.85 637.92,263.72 646.29,300.97 654.66,300.53 663.03,308.83 671.4,313.63" fill="none" stroke="#000" stroke-width="0.75" stroke-dasharray="2.4 2.5"/>
<polyline points="554.22,254.85 562.59,298.93 570.96,295.01 579.33,296.75 587.7,296.75 596.07,244.66 604.44,302.72 612.81,287.58 621.18,296.46 629.55,297.19 637.92,259.79 646.29,315.38 654.66,228.66 663.03,318.58 671.4,234.19" fill="none" stroke="#000" stroke-width="0.75"/>
<circle cx="554.22" cy="324.98" r="1.85"/>
<circle cx="562.59" cy="324.98" r="1.85"/>
<circle cx="570.96" cy="324.98" r="1.85"/>
<circle cx="579.33" cy="324.98" r="1.85"/>
<circle cx="587.7" cy="324.98" r="1.85"/>
<circle cx="596.07" cy="324.98" r="1.85"/>
<circle cx="604.44" cy="324.98" r="1.85"/>
<circle cx="612.81" cy="324.98" r="1.85"/>
<circle cx="621.18" cy="324.98" r="1.85"/>
<circle cx="629.55" cy="324.98" r="1.85"/>
<circle cx="637.92" cy="324.98" r="1.85"/>
<circle cx="646.29" cy="324.98" r="1.85"/>
<circle cx="654.66" cy="304.46" r="1.85"/>
<circle cx="663.03" cy="324.98" r="1.85"/>
<circle cx="671.4" cy="306.79" r="1.85"/>
<circle cx="554.22" cy="273.03" r="1.85"/>
<circle cx="562.59" cy="324.98" r="1.85"/>
<circle cx="570.96" cy="324.98" r="1.85"/>
<circle cx="579.33" cy="274.05" r="1.85"/>
<circle cx="587.7" cy="324.98" r="1.85"/>
<circle cx="596.07" cy="278.71" r="1.85"/>
<circle cx="604.44" cy="324.98" r="1.85"/>
<circle cx="612.81" cy="294.42" r="1.85"/>
<circle cx="621.18" cy="310.57" r="1.85"/>
<circle cx="629.55" cy="309.85" r="1.85"/>
<circle cx="637.92" cy="263.72" r="1.85"/>
<circle cx="646.29" cy="300.97" r="1.85"/>
<circle cx="654.66" cy="300.53" r="1.85"/>
<circle cx="663.03" cy="308.83" r="1.85"/>
<circle cx="671.4" cy="313.63" r="1.85"/>
<circle cx="554.22" cy="254.85" r="1.85"/>
<circle cx="562.59" cy="298.93" r="1.85"/>
<circle cx="570.96" cy="295.01" r="1.85"/>
<circle cx="579.33" cy="296.75" r="1.85"/>
<circle cx="587.7" cy="296.75" r="1.85"/>
<circle cx="596.07" cy="244.66" r="1.85"/>
<circle cx="604.44" cy="302.72" r="1.85"/>
<circle cx="612.81" cy="287.58" r="1.85"/>
<circle cx="621.18" cy="296.46" r="1.85"/>
<circle cx="629.55" cy="297.19" r="1.85"/>
<circle cx="637.92" cy="259.79" r="1.85"/>
<circle cx="646.29" cy="315.38" r="1.85"/>
<circle cx="654.66" cy="228.66" r="1.85"/>
<circle cx="663.03" cy="318.58" r="1.85"/>
<circle cx="671.4" cy="234.19" r="1.85"/>
<rect x="532.5" y="200.2" width="151.5" height="130.7" fill="none" stroke="#444" stroke-width="0.95"/>
<text x="608.25" y="191.6" class="st">P. menziesii</text>
<line x1="545.85" y1="330.9" x2="545.85" y2="335.2" stroke="#333" stroke-width="1.05"/>
<text x="545.85" y="347" class="tx">2005</text>
<line x1="587.7" y1="330.9" x2="587.7" y2="335.2" stroke="#333" stroke-width="1.05"/>
<text x="587.7" y="347" class="tx">2010</text>
<line x1="629.55" y1="330.9" x2="629.55" y2="335.2" stroke="#333" stroke-width="1.05"/>
<text x="629.55" y="347" class="tx">2015</text>
<line x1="671.4" y1="330.9" x2="671.4" y2="335.2" stroke="#333" stroke-width="1.05"/>
<text x="671.4" y="347" class="tx">2020</text>
<text x="369" y="362.6" class="ti">Year</text>
<text transform="translate(10.6,174.1) rotate(-90)" class="ti">Share of trees (≥ 50 years old)</text>
<text transform="translate(27,174.1) rotate(-90)" class="ti">with common/abundant fruiting [%]</text>
</g>
</svg>
</body></html>
